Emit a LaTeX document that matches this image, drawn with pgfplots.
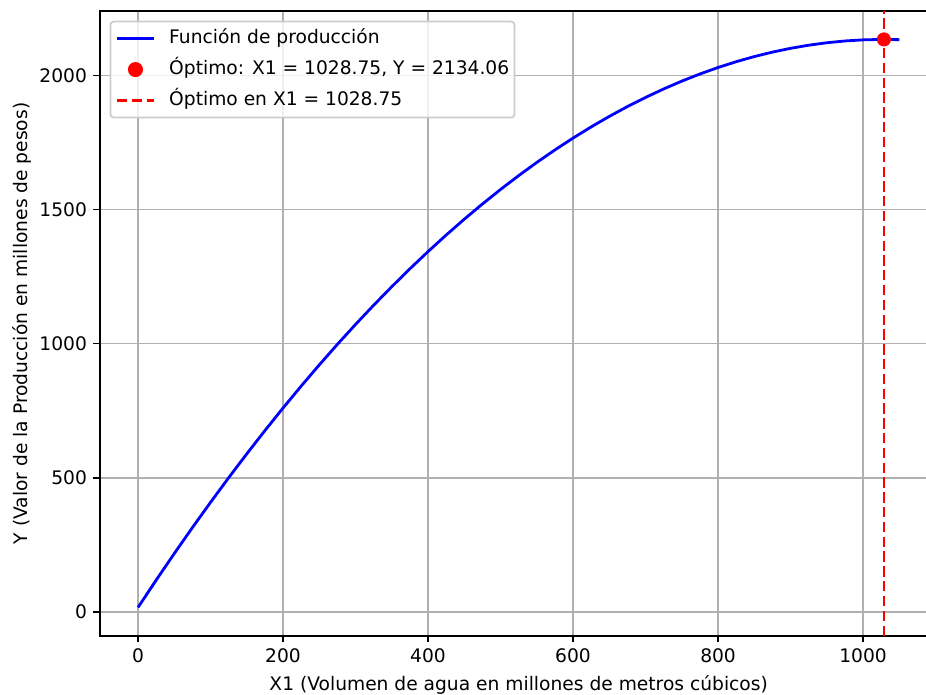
\documentclass[border=0pt]{standalone}
\usepackage{fontspec}
\setmainfont{DejaVu Sans}
\usepackage{pgfplots}
\pgfplotsset{compat=1.18}
\usetikzlibrary{calc}
\definecolor{gridgray}{HTML}{B0B0B0}
\definecolor{legframe}{HTML}{CCCCCC}

\pgfplotsset{
    lineleg/.style={legend image code/.code={\draw[fill opacity=1, draw opacity=1, line width=1.6pt, ##1] (0pt,0pt) -- (21pt,0pt);}},
    dotleg/.style={legend image code/.code={\draw[fill opacity=1, draw opacity=1, ##1] plot coordinates {(10.5pt,0pt)};}},
}

% production curve
\pgfplotstableread{
x y
0 17.41
25 119.04
50 218.16
75 314.79
100 408.91
125 500.54
150 589.66
175 676.29
200 760.41
225 842.04
250 921.16
275 997.79
300 1071.91
325 1143.54
350 1212.66
375 1279.29
400 1343.41
425 1405.04
450 1464.16
475 1520.79
500 1574.91
525 1626.54
550 1675.66
575 1722.29
600 1766.41
625 1808.04
650 1847.16
675 1883.79
700 1917.91
725 1949.54
750 1978.66
775 2005.29
800 2029.41
825 2051.04
850 2070.16
875 2086.79
900 2100.91
925 2112.54
950 2121.66
975 2128.29
1000 2132.41
1025 2134.04
1028.75 2134.06
1050 2133.16
}\produccion

\begin{document}
\fontsize{10.66}{12.8}\selectfont
\begin{tikzpicture}
\begin{axis}[
    scale only axis,
    width=478.5pt,
    height=357pt,
    xmin=-52.5, xmax=1102.5,
    ymin=-88.4, ymax=2239.9,
    xtick={0,200,...,1000},
    ytick={0,500,...,2000},
    tick pos=left,
    tick align=outside,
    major tick length=3.7pt,
    every tick/.style={black, line width=0.85pt},
    axis line style={black, line width=0.85pt},
    grid=major,
    grid style={gridgray, line width=0.8pt},
    /pgf/number format/assume math mode=true,
    /pgf/number format/1000 sep={},
    xlabel={X1 (Volumen de agua en millones de metros cúbicos)},
    ylabel={Y (Valor de la Producción en millones de pesos)},
    ylabel style={yshift=-2.7pt},
    legend cell align=left,
    legend style={
        at={(0,1)}, anchor=north west,
        xshift=5.5pt, yshift=-5.5pt,
        draw=legframe, line width=1pt, rounded corners=2pt,
        fill=white, fill opacity=0.8, draw opacity=1, text opacity=1,
        inner xsep=3pt, inner ysep=4pt,
        row sep=6.5pt, column sep=8pt,
        nodes={inner sep=0pt, text height=8.3pt, text depth=3pt},
    },
    lineleg,
]
\addplot[blue, line width=1.6pt] table[x=x, y=y] {\produccion};
\addlegendentry{Función de producción}
\addplot[only marks, mark=*, mark size=3.8pt, red, dotleg]
    coordinates {(1028.75,2134.06)};
\addlegendentry{Óptimo: X1 = 1028.75, Y = 2134.06}
\addplot[red, line width=1.6pt, dash pattern=on 5.9pt off 2.56pt]
    coordinates {(1028.75,-88.4) (1028.75,2239.9)};
\addlegendentry{Óptimo en X1 = 1028.75}
\end{axis}
\pgfresetboundingbox
\useasboundingbox ($(current axis.south west)+(-57.1pt,-33.3pt)$)
    rectangle ($(current axis.north east)+(-6.5pt,6.3pt)$);
\end{tikzpicture}
\end{document}
